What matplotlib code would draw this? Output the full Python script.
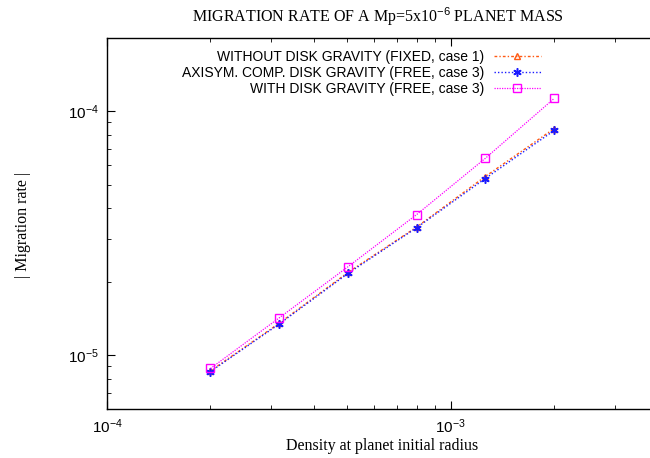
import matplotlib
matplotlib.use('Agg')
import matplotlib.pyplot as plt
from matplotlib.ticker import LogLocator, NullFormatter

# density at planet initial radius
density = [2.0e-4, 3.17e-4, 5.02e-4, 7.96e-4, 1.26e-3, 2.0e-3]

# |migration rate| for each run
rate_fixed = [8.6e-6, 1.35e-5, 2.18e-5, 3.35e-5, 5.4e-5, 8.5e-5]
rate_axisym = [8.55e-6, 1.34e-5, 2.16e-5, 3.33e-5, 5.3e-5, 8.35e-5]
rate_full = [8.8e-6, 1.42e-5, 2.3e-5, 3.77e-5, 6.41e-5, 1.13e-4]

labels = ['WITHOUT DISK GRAVITY (FIXED, case 1)',
          'AXISYM. COMP. DISK GRAVITY (FREE, case 3)',
          'WITH DISK GRAVITY (FREE, case 3)']

plt.rcParams['font.family'] = ['Liberation Sans', 'DejaVu Sans']
plt.rcParams['mathtext.fontset'] = 'custom'
plt.rcParams['mathtext.rm'] = 'Liberation Sans'
plt.rcParams['mathtext.it'] = 'Liberation Sans'

fig = plt.figure(figsize=(6.5, 4.58), dpi=100)
ax = fig.add_axes([107 / 650, 1 - 409 / 458, 584 / 650, 371 / 458])

ax.plot(density, rate_fixed, color='#ff5a14', linestyle=(0, (2, 1.5, 1, 1.5)), linewidth=1,
        marker='^', markersize=4.5, markerfacecolor='none', markeredgewidth=1, label=labels[0])
ax.plot(density, rate_axisym, color='#1a1aff', linestyle=(0, (1, 1.5)), linewidth=1,
        marker=(6, 2, 0), markersize=6, markeredgewidth=1.1, label=labels[1])
ax.plot(density, rate_full, color='#ff00ff', linestyle=(0, (1, 1)), linewidth=0.9,
        marker='s', markersize=5.5, markerfacecolor='none', markeredgewidth=1, label=labels[2])

ax.set_xscale('log')
ax.set_yscale('log')
ax.set_xlim(1e-4, 5e-3)
ax.set_ylim(6e-6, 2e-4)

for axis in (ax.xaxis, ax.yaxis):
    axis.set_major_locator(LogLocator(base=10))
    axis.set_minor_locator(LogLocator(base=10, subs=range(2, 10)))
    axis.set_minor_formatter(NullFormatter())
ax.tick_params(which='both', direction='in', top=True, right=True, labelsize=11, pad=6)
ax.tick_params(which='major', length=6, width=0.8)
ax.tick_params(which='minor', length=3, width=0.6)
for s in ax.spines.values():
    s.set_linewidth(1)

fig.text(378 / 650, 1 - 17 / 458, r'MIGRATION RATE OF A Mp=5x10$^{-6}$ PLANET MASS',
         ha='center', va='center', fontsize=11.5, family='Liberation Serif')
fig.text(382 / 650, 1 - 446 / 458, 'Density at planet initial radius',
         ha='center', va='center', fontsize=11.5, family='Liberation Serif')
fig.text(23 / 650, 1 - 225 / 458, '| Migration rate |', rotation=90,
         ha='center', va='center', fontsize=11.5, family='Liberation Serif')

ax.legend(loc='upper right', bbox_to_anchor=(548 / 650, 1 - 43 / 458),
          bbox_transform=fig.transFigure, frameon=False, markerfirst=False,
          fontsize=10, handlelength=3.4, handletextpad=0.7, labelspacing=0.15,
          borderpad=0)

fig.savefig('out.png', dpi=100)
